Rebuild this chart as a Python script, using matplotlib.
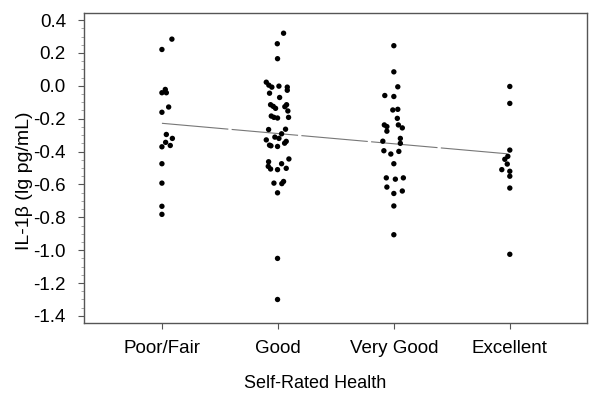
import matplotlib
matplotlib.use("Agg")
import matplotlib.pyplot as plt
import numpy as np
from matplotlib.ticker import MultipleLocator

categories = ["Poor/Fair", "Good", "Very Good", "Excellent"]

poor_vals = [0.284, 0.221, -0.022, -0.042, -0.042, -0.129, -0.161, -0.296, -0.320,
             -0.344, -0.363, -0.371, -0.474, -0.592, -0.733, -0.782]
poor_jit = [0.086, 0, 0.029, 0, 0.038, 0.058, 0, 0.038, 0.090, 0.032, 0.072, 0, 0, 0, 0, 0]

good_vals = [0.320, 0.256, 0.165, 0.022, 0.004, -0.008, -0.002, -0.008, -0.027, -0.045,
             -0.071, -0.115, -0.125, -0.115, -0.127, -0.137, -0.153, -0.184, -0.192, -0.196,
             -0.192, -0.264, -0.266, -0.292, -0.312, -0.329, -0.320, -0.338, -0.361, -0.369,
             -0.365, -0.349, -0.462, -0.490, -0.474, -0.445, -0.506, -0.510, -0.502, -0.592,
             -0.595, -0.582, -0.651, -1.05, -1.30]
good_jit = [0.049, -0.005, -0.003, -0.100, -0.078, -0.052, 0.009, 0.081, 0.081, -0.072,
            0.015, -0.063, -0.040, 0.075, 0.060, -0.020, 0.086, -0.057, -0.034, -0.003,
            0.092, 0.066, -0.080, 0.032, -0.026, -0.100, 0.009, 0.072, -0.072, -0.003,
            -0.060, 0.058, -0.080, -0.083, 0.032, 0.095, -0.063, -0.003, 0.072, -0.034,
            0.034, 0.049, -0.003, -0.003, -0.003]

vgood_vals = [0.244, 0.085, -0.006, -0.059, -0.065, -0.147, -0.143, -0.198, -0.238, -0.248,
              -0.238, -0.256, -0.276, -0.320, -0.337, -0.350, -0.395, -0.399, -0.415, -0.474,
              -0.560, -0.568, -0.560, -0.616, -0.640, -0.655, -0.731, -0.906]
vgood_jit = [0, 0, 0.034, -0.078, 0, -0.009, 0.034, 0.030, -0.082, -0.060,
             0.039, 0.073, -0.060, 0.056, -0.095, 0.056, -0.086, 0.043, -0.026, 0,
             -0.065, 0.013, 0.082, -0.060, 0.073, 0, 0, 0]

exc_vals = [-0.004, -0.107, -0.391, -0.429, -0.447, -0.476, -0.510, -0.520, -0.550, -0.622, -1.025]
exc_jit = [0, 0, 0, -0.017, -0.043, -0.022, -0.069, 0, 0, 0, 0]

fit_intercept = -0.1657
fit_slope = -0.0623

groups = [(poor_vals, poor_jit), (good_vals, good_jit), (vgood_vals, vgood_jit), (exc_vals, exc_jit)]

plt.rcParams['font.family'] = ['Liberation Sans', 'DejaVu Sans']

fig = plt.figure(figsize=(6, 4), dpi=100)
ax = fig.add_axes([0.14, 0.1925, 0.838, 0.775])

for i, (vals, jit) in enumerate(groups):
    x = (i + 1) + np.array(jit)
    ax.scatter(x, vals, s=15, color='black', edgecolors='none', zorder=3)

xf = np.array([1, 4])
ax.plot(xf, fit_intercept + fit_slope * xf, color='#777777', lw=0.8,
        dashes=(60, 3), zorder=2)

ax.set_xlim(0.328, 4.664)
ax.set_ylim(-1.443, 0.443)
ax.set_xticks(range(1, 5))
ax.set_xticklabels(categories)
ax.yaxis.set_major_locator(MultipleLocator(0.2))
ax.yaxis.set_minor_locator(MultipleLocator(0.05))
ax.set_yticks(ax.get_yticks())
ax.set_yticklabels([f"{v:.1f}".replace("\u2212", "-") for v in ax.get_yticks()])
ax.set_ylim(-1.443, 0.443)

ax.tick_params(axis='both', which='major', labelsize=13.5, direction='out', length=4,
               width=0.8, color='#555555')
ax.tick_params(axis='x', pad=8)
ax.tick_params(axis='y', pad=9)
ax.tick_params(axis='y', which='minor', length=2, width=0.6, color='#999999')

for sp in ax.spines.values():
    sp.set_color('#555555')
    sp.set_linewidth(1.0)

ax.set_xlabel("Self-Rated Health", fontsize=13)
ax.set_ylabel("IL-1β (lg pg/mL)", fontsize=14)
# label placement (axes fraction)
ax.xaxis.set_label_coords((315 - 84) / 503, -(375 - 323) / 310)
ax.yaxis.set_label_coords(-(84 - 33) / 503, (323 - 181) / 310)

fig.savefig("out.png", dpi=100)
